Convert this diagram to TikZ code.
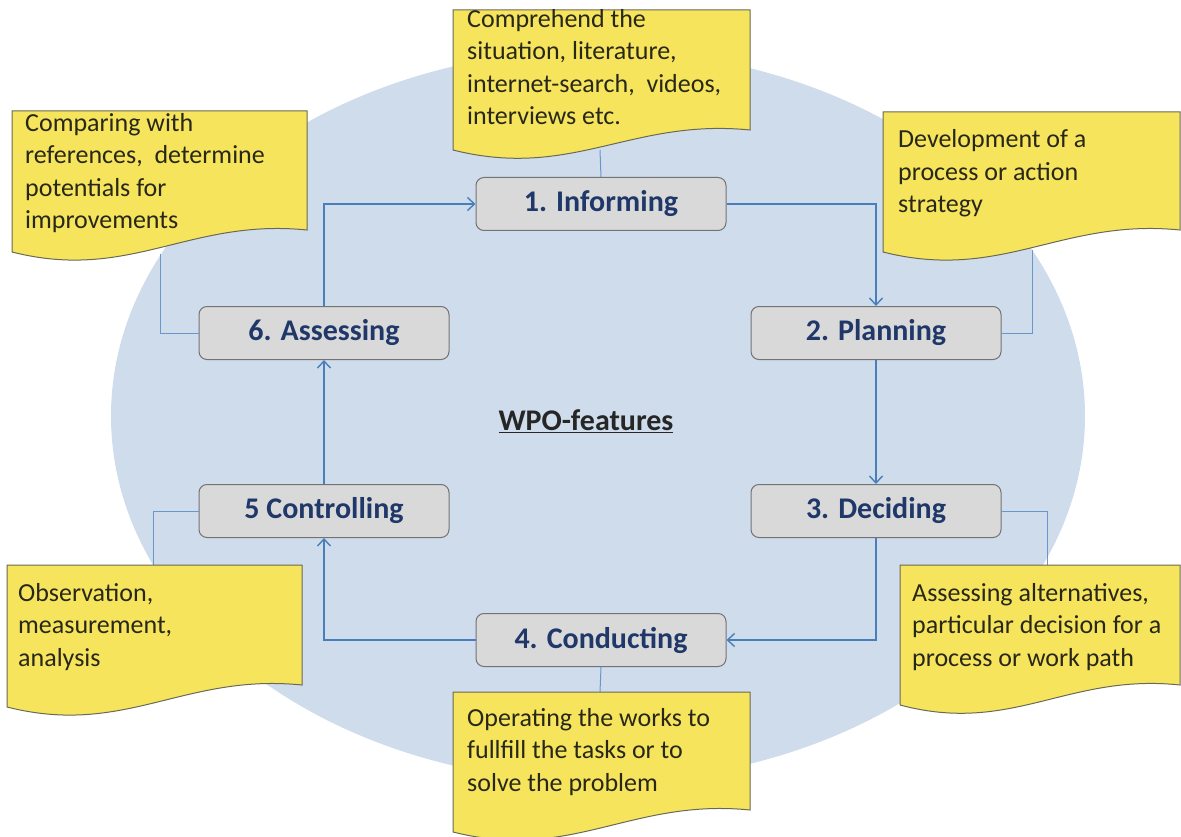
\documentclass[tikz,border=0pt]{standalone}
\usepackage{fontspec}
\setmainfont{Carlito}
\usetikzlibrary{arrows.meta}
\definecolor{ellblue}{RGB}{206,220,236}
\definecolor{notefill}{RGB}{246,228,92}
\definecolor{noteedge}{RGB}{105,105,85}
\definecolor{boxfill}{RGB}{217,217,217}
\definecolor{boxedge}{RGB}{115,115,115}
\definecolor{navy}{RGB}{31,56,105}
\definecolor{flowblue}{RGB}{74,126,187}
\definecolor{linkblue}{RGB}{105,150,205}
\definecolor{notetext}{RGB}{40,40,25}
\definecolor{titletext}{RGB}{38,38,38}
\newcommand\wavenote[5]{%
  \path[fill=notefill,draw=noteedge,line width=1pt]
    (#1,#2) -- (#3,#2) -- (#3,#4)
    .. controls ({#1+0.6*(#3-#1)},{#4-12}) and ({#1+0.4*(#3-#1)},{#5+30}) ..
    (#1,#5) -- cycle;}
\begin{document}
\begin{tikzpicture}[x=1pt,y=-1pt,
  box/.style={draw=boxedge,fill=boxfill,line width=1pt,rounded corners=8pt,
    minimum width=250pt,minimum height=53pt,inner sep=0pt,
    font=\fontsize{30}{36}\selectfont\bfseries,text=navy},
  notetxt/.style={anchor=base west,align=left,inner sep=0pt,
    font=\fontsize{26}{32.5}\selectfont,text=notetext},
  flow/.style={draw=flowblue,line width=1.6pt,-{Straight Barb[length=7pt,width=13pt,line width=1.4pt]}},
  link/.style={draw=linkblue,line width=1pt}]
\useasboundingbox (0,0) rectangle (1181,837);
\fill[ellblue] (598,416) ellipse [x radius=487, y radius=366];

% attachment points on the notes
\coordinate (aInfo) at (600,150);
\coordinate (aComp) at (160,254);
\coordinate (aDev) at (1032,250);
\coordinate (aObs) at (153,565);
\coordinate (aAlt) at (1047,565);
\coordinate (aOp) at (600,692);

% process boxes
\node[box] (info) at (601,204) {1. Informing};
\node[box] (plan) at (876,333) {2. Planning};
\node[box] (deci) at (876,511) {3. Deciding};
\node[box] (cond) at (601,640) {4. Conducting};
\node[box] (ctrl) at (324,511) {5 Controlling};
\node[box] (asse) at (324,333) {6. Assessing};

% note links
\draw[link] (aInfo) -- (info.north);
\draw[link] (aComp) |- (asse.west);
\draw[link] (aDev) |- (plan.east);
\draw[link] (ctrl.west) -| (aObs);
\draw[link] (deci.east) -| (aAlt);
\draw[link] (cond.south) -- (aOp);

% notes
\wavenote{453}{10}{750}{130}{150}
\wavenote{12}{111}{307}{230}{252}
\wavenote{883}{112}{1180}{230}{252}
\wavenote{7}{565}{302}{685}{707}
\wavenote{900}{565}{1180}{685}{705}
\wavenote{453}{692}{750}{810}{832}

% note texts (anchored at the baseline of the last line)
\node[notetxt] (tInfo) at (467,125) {Comprehend the\\situation, literature,\\internet-search,\ \ videos,\\interviews etc.};
\node[notetxt] (tComp) at (25,229) {Comparing with\\references,\ \ determine\\potentials for\\improvements};
\node[notetxt] (tDev) at (898,213) {Development of a\\process or action\\strategy};
\node[notetxt] (tObs) at (18,666) {Observation,\\measurement,\\analysis};
\node[notetxt] (tAlt) at (912,666) {Assessing alternatives,\\particular decision for a\\process or work path};
\node[notetxt] (tOp) at (467,791) {Operating the works to\\fullfill the tasks or to\\solve the problem};

% flow
\draw[flow] (asse.north) |- (info.west);
\draw[flow] (info.east) -| (plan.north);
\draw[flow] (plan.south) -- (deci.north);
\draw[flow] (deci.south) |- (cond.east);
\draw[flow] (cond.west) -| (ctrl.south);
\draw[flow] (ctrl.north) -- (asse.south);

\node[font=\fontsize{30}{36}\selectfont\bfseries,text=titletext] (title) at (586,421) {\underline{WPO-features}};
\end{tikzpicture}
\end{document}
